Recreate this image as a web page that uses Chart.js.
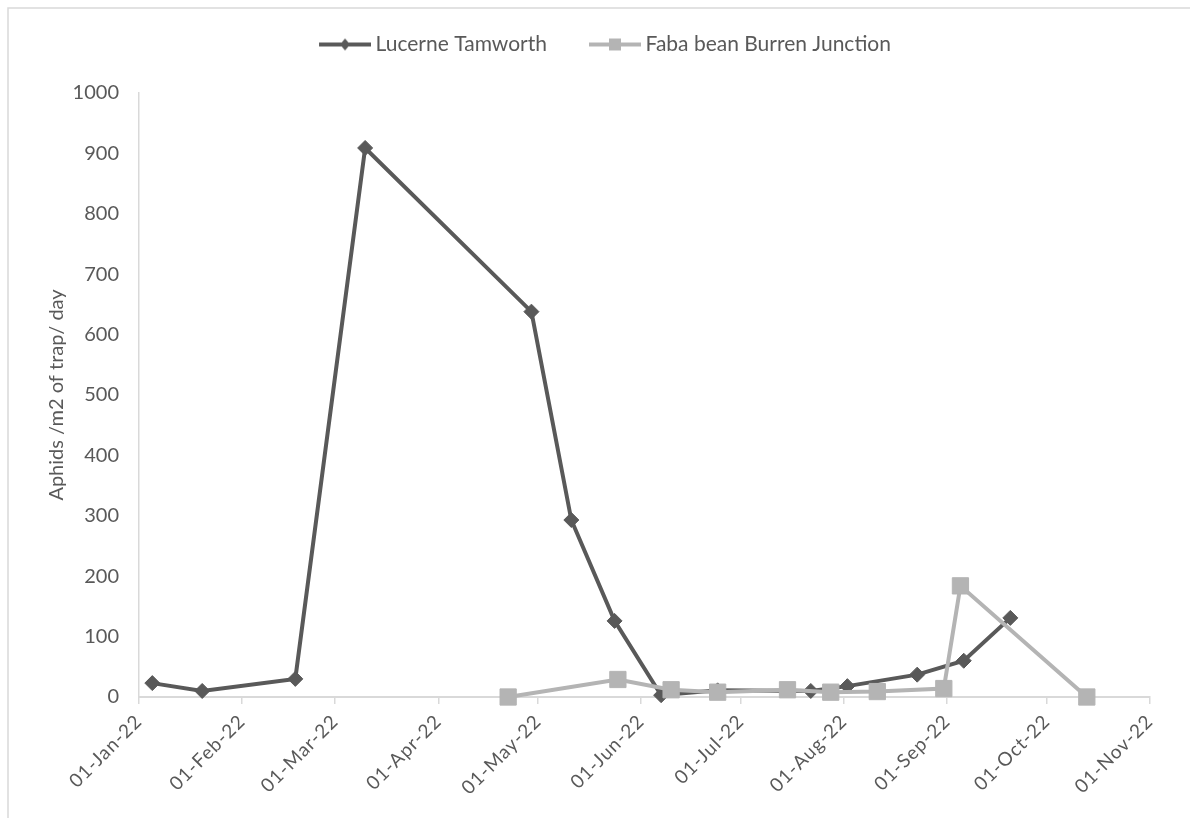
<!DOCTYPE html>
<html>
<head>
<meta charset="utf-8">
<title>Aphid trap counts 2022</title>
<script src="https://cdn.jsdelivr.net/npm/chart.js@4.4.1/dist/chart.umd.min.js"></script>
<style>
  html, body { margin: 0; padding: 0; background: #ffffff; }
  #wrap { width: 1190px; height: 818px; position: relative; }
  #chart { display: block; }
</style>
</head>
<body>
<div id="wrap"><canvas id="chart" width="1190" height="818"></canvas></div>
<script>
// Trap sampling dates and counts (aphids per m2 of trap per day)
const lucerneDates = ['2022-01-05', '2022-01-20', '2022-02-17', '2022-03-10', '2022-04-29', '2022-05-11',
                      '2022-05-24', '2022-06-07', '2022-06-24', '2022-07-22', '2022-08-02', '2022-08-23',
                      '2022-09-06', '2022-09-20'];
const lucerneValues = [23, 10, 30, 909, 638, 293, 126, 3, 11, 10, 18, 37, 60, 131];

const fabaDates = ['2022-04-22', '2022-05-25', '2022-06-10', '2022-06-24', '2022-07-15', '2022-07-28',
                   '2022-08-11', '2022-08-31', '2022-09-05', '2022-10-13'];
const fabaValues = [0, 29, 12, 8, 12, 8, 9, 14, 184, 0];

// Axis ticks
const monthTickDates = ['2022-01-01', '2022-02-01', '2022-03-01', '2022-04-01', '2022-05-01', '2022-06-01',
                        '2022-07-01', '2022-08-01', '2022-09-01', '2022-10-01', '2022-11-01'];
const monthTickLabels = ['01-Jan-22', '01-Feb-22', '01-Mar-22', '01-Apr-22', '01-May-22', '01-Jun-22',
                         '01-Jul-22', '01-Aug-22', '01-Sep-22', '01-Oct-22', '01-Nov-22'];
const yTickValues = [0, 100, 200, 300, 400, 500, 600, 700, 800, 900, 1000];

const seriesNames = ['Lucerne Tamworth', 'Faba bean Burren Junction'];
const seriesColors = ['#595959', '#b4b4b4'];

// Dates are plotted as day offsets from 1 Jan 2022 on a linear axis
const DAY_MS = 86400000;
const YEAR_START = Date.UTC(2022, 0, 1);
const dayOf = s => Math.round((Date.parse(s + 'T00:00:00Z') - YEAR_START) / DAY_MS);
const toPoints = (dates, values) => dates.map((d, i) => ({ x: dayOf(d), y: values[i] }));
const monthTickDays = monthTickDates.map(dayOf);

const FONT = 'Lato';
const TEXT = '#595959';
const AXIS = '#d9d9d9';

// Legend swatch: a short line with the series marker in the middle
function legendSwatch(color, marker) {
  const c = document.createElement('canvas');
  c.width = 78; c.height = 20;
  const g = c.getContext('2d');
  g.strokeStyle = color;
  g.fillStyle = color;
  g.lineWidth = 4;
  g.beginPath(); g.moveTo(26, 10); g.lineTo(78, 10); g.stroke();
  g.beginPath();
  if (marker === 'diamond') {
    g.moveTo(52, 4); g.lineTo(57, 10); g.lineTo(52, 16); g.lineTo(47, 10);
  } else {
    g.rect(46, 4, 12, 12);
  }
  g.closePath(); g.fill();
  return c;
}
const swatches = [legendSwatch(seriesColors[0], 'diamond'), legendSwatch(seriesColors[1], 'square')];

// Extra room between the legend and the plot
const legendGap = {
  id: 'legendGap',
  afterInit(chart) {
    const fit = chart.legend.fit;
    chart.legend.fit = function () { fit.call(this); this.height += 28; };
  }
};

// Spaced-out rotated date labels
const spacedDateLabels = {
  id: 'spacedDateLabels',
  afterUpdate(chart) {
    const sc = chart.scales.x;
    if (sc && !sc._spaced) {
      const draw = sc.drawLabels;
      sc.drawLabels = function (area) {
        const ctx = this.ctx;
        const prev = ctx.letterSpacing;
        ctx.letterSpacing = '1px';
        draw.call(this, area);
        ctx.letterSpacing = prev || '0px';
      };
      sc._spaced = true;
    }
  }
};

// Light frame round the chart
const frame = {
  id: 'frame',
  beforeDraw(chart) {
    const ctx = chart.ctx;
    ctx.save();
    ctx.strokeStyle = '#d9d9d9';
    ctx.lineWidth = 1.5;
    ctx.beginPath();
    ctx.moveTo(8, chart.height + 2); ctx.lineTo(8, 8); ctx.lineTo(chart.width + 2, 8);
    ctx.stroke();
    ctx.restore();
  }
};

new Chart(document.getElementById('chart'), {
  type: 'line',
  data: {
    datasets: [
      {
        label: seriesNames[0],
        data: toPoints(lucerneDates, lucerneValues),
        borderColor: seriesColors[0],
        backgroundColor: seriesColors[0],
        borderWidth: 4,
        pointStyle: 'rectRot',
        pointRadius: 7.5,
        pointBorderWidth: 1,
        tension: 0,
        clip: false,
        order: 1
      },
      {
        label: seriesNames[1],
        data: toPoints(fabaDates, fabaValues),
        borderColor: seriesColors[1],
        backgroundColor: seriesColors[1],
        borderWidth: 4,
        pointStyle: 'rect',
        pointRadius: 11.5,
        pointBorderWidth: 1,
        tension: 0,
        clip: false,
        order: 0
      }
    ]
  },
  options: {
    responsive: false,
    animation: false,
    events: [],
    layout: { padding: { left: 0, right: 0, top: 12, bottom: 0 } },
    plugins: {
      tooltip: { enabled: false },
      legend: {
        position: 'top',
        align: 'center',
        labels: {
          usePointStyle: true,
          pointStyleWidth: 66,
          padding: 22,
          color: TEXT,
          font: { family: FONT, size: 21 },
          sort: (a, b) => a.datasetIndex - b.datasetIndex,
          generateLabels(chart) {
            const items = Chart.defaults.plugins.legend.labels.generateLabels(chart);
            items.forEach(it => { it.pointStyle = swatches[it.datasetIndex]; });
            return items;
          }
        }
      }
    },
    scales: {
      x: {
        type: 'linear',
        min: 0,
        max: monthTickDays[monthTickDays.length - 1],
        afterBuildTicks(sc) { sc.ticks = monthTickDays.map(v => ({ value: v })); },
        afterFit(sc) { sc.height = 121; sc.paddingRight = 40; },
        ticks: {
          autoSkip: false,
          minRotation: 45,
          maxRotation: 45,
          padding: 6,
          color: TEXT,
          font: { family: FONT, size: 19 },
          callback: v => monthTickLabels[monthTickDays.indexOf(v)]
        },
        grid: { display: true, drawOnChartArea: false, drawTicks: true, tickLength: 7, color: AXIS, lineWidth: 1.5 },
        border: { display: true, color: AXIS, width: 2 }
      },
      y: {
        min: 0,
        max: 1000,
        afterBuildTicks(sc) { sc.ticks = yTickValues.map(v => ({ value: v })); },
        afterFit(sc) { sc.width = 139; },
        ticks: { padding: 20, color: TEXT, font: { family: FONT, size: 20 }, callback: v => String(v) },
        grid: { display: false, drawTicks: false },
        border: { display: true, color: AXIS, width: 1.5 },
        title: {
          display: true,
          text: 'Aphids /m2 of trap/ day',
          color: TEXT,
          font: { family: FONT, size: 20 },
          padding: { top: 45, bottom: 0 }
        }
      }
    }
  },
  plugins: [legendGap, spacedDateLabels, frame]
});
</script>
</body>
</html>
